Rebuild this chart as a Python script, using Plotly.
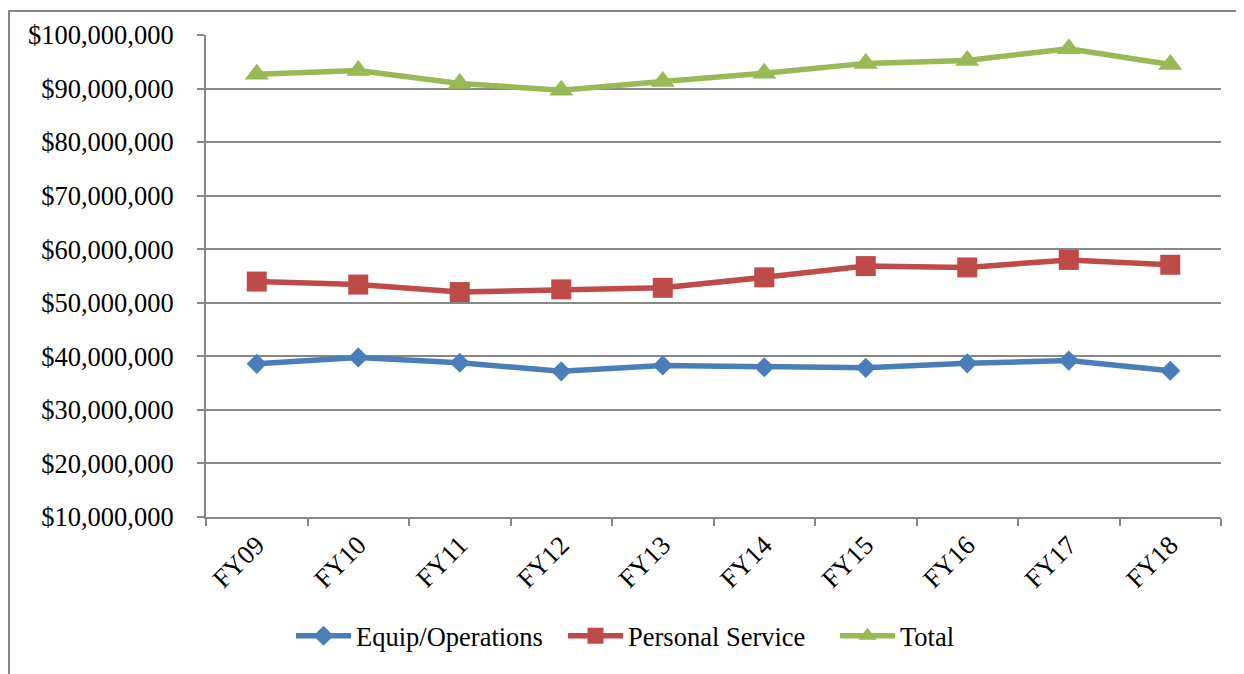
import plotly.graph_objects as go

categories = ["FY09", "FY10", "FY11", "FY12", "FY13", "FY14", "FY15", "FY16", "FY17", "FY18"]
equip_operations = [38.6e6, 39.8e6, 38.8e6, 37.2e6, 38.3e6, 37.96e6, 37.85e6, 38.7e6, 39.2e6, 37.3e6]
personal_service = [53.96e6, 53.4e6, 52.0e6, 52.5e6, 52.8e6, 54.75e6, 56.85e6, 56.6e6, 58.0e6, 57.1e6]
total = [92.65e6, 93.35e6, 90.95e6, 89.7e6, 91.3e6, 92.85e6, 94.7e6, 95.25e6, 97.45e6, 94.5e6]

FONT = "Liberation Serif, Times New Roman, serif"
GRID = "#878787"
FS = 26.5

# page body has an 8px margin, so the figure is sized/offset to compensate
W, H = 1236, 666
L, T = 198, 25
PR, PB = 1221 - 8, 517 - 8

fig = go.Figure()
fig.add_trace(go.Scatter(x=categories, y=equip_operations, name="Equip/Operations",
                         mode="lines+markers",
                         line=dict(color="#4A7EBB", width=5.5),
                         marker=dict(symbol="diamond", size=15.5, color="#4A7EBB")))
fig.add_trace(go.Scatter(x=categories, y=personal_service, name="Personal Service",
                         mode="lines+markers",
                         line=dict(color="#BE4B48", width=5.5),
                         marker=dict(symbol="square", size=20, color="#BE4B48")))
fig.add_trace(go.Scatter(x=categories, y=total, name="Total",
                         mode="lines+markers",
                         line=dict(color="#98B954", width=5.5),
                         marker=dict(symbol="triangle-up", size=21, color="#98B954")))

fig.update_layout(
    width=W, height=H,
    margin=dict(l=L, r=W - PR, t=T, b=H - PB),
    paper_bgcolor="white", plot_bgcolor="white",
    font=dict(family=FONT, size=FS, color="black"),
    showlegend=True,
    legend=dict(orientation="h", xref="container", yref="container",
                x=(297 - 8 - 6) / W, xanchor="left", y=1 - 628 / H, yanchor="middle",
                font=dict(family=FONT, size=FS, color="black"),
                itemwidth=55, entrywidth=202, entrywidthmode="pixels",
                tracegroupgap=0),
    xaxis=dict(type="category", range=[-0.5, 9.5], tickson="boundaries",
               showgrid=False, showline=True, linecolor=GRID, linewidth=2,
               ticks="outside", ticklen=7, tickwidth=2, tickcolor=GRID,
               tickangle=-45, tickfont=dict(family=FONT, size=FS, color="black")),
    yaxis=dict(range=[10e6, 100e6], dtick=10e6, tick0=0,
               tickprefix="$", tickformat=",.0f",
               showgrid=True, gridcolor=GRID, gridwidth=2,
               showline=True, linecolor=GRID, linewidth=2,
               ticks="outside", ticklen=7, tickwidth=2, tickcolor=GRID,
               ticklabelstandoff=18, zeroline=False,
               tickfont=dict(family=FONT, size=FS, color="black")),
    shapes=[dict(type="rect", xref="paper", yref="paper",
                 x0=(1 - L) / (PR - L), x1=1.2, y0=-0.6, y1=(PB - 1) / (PB - T),
                 line=dict(color="#868686", width=2), fillcolor="rgba(0,0,0,0)",
                 layer="below")],
)

fig.write_html("out.html")
